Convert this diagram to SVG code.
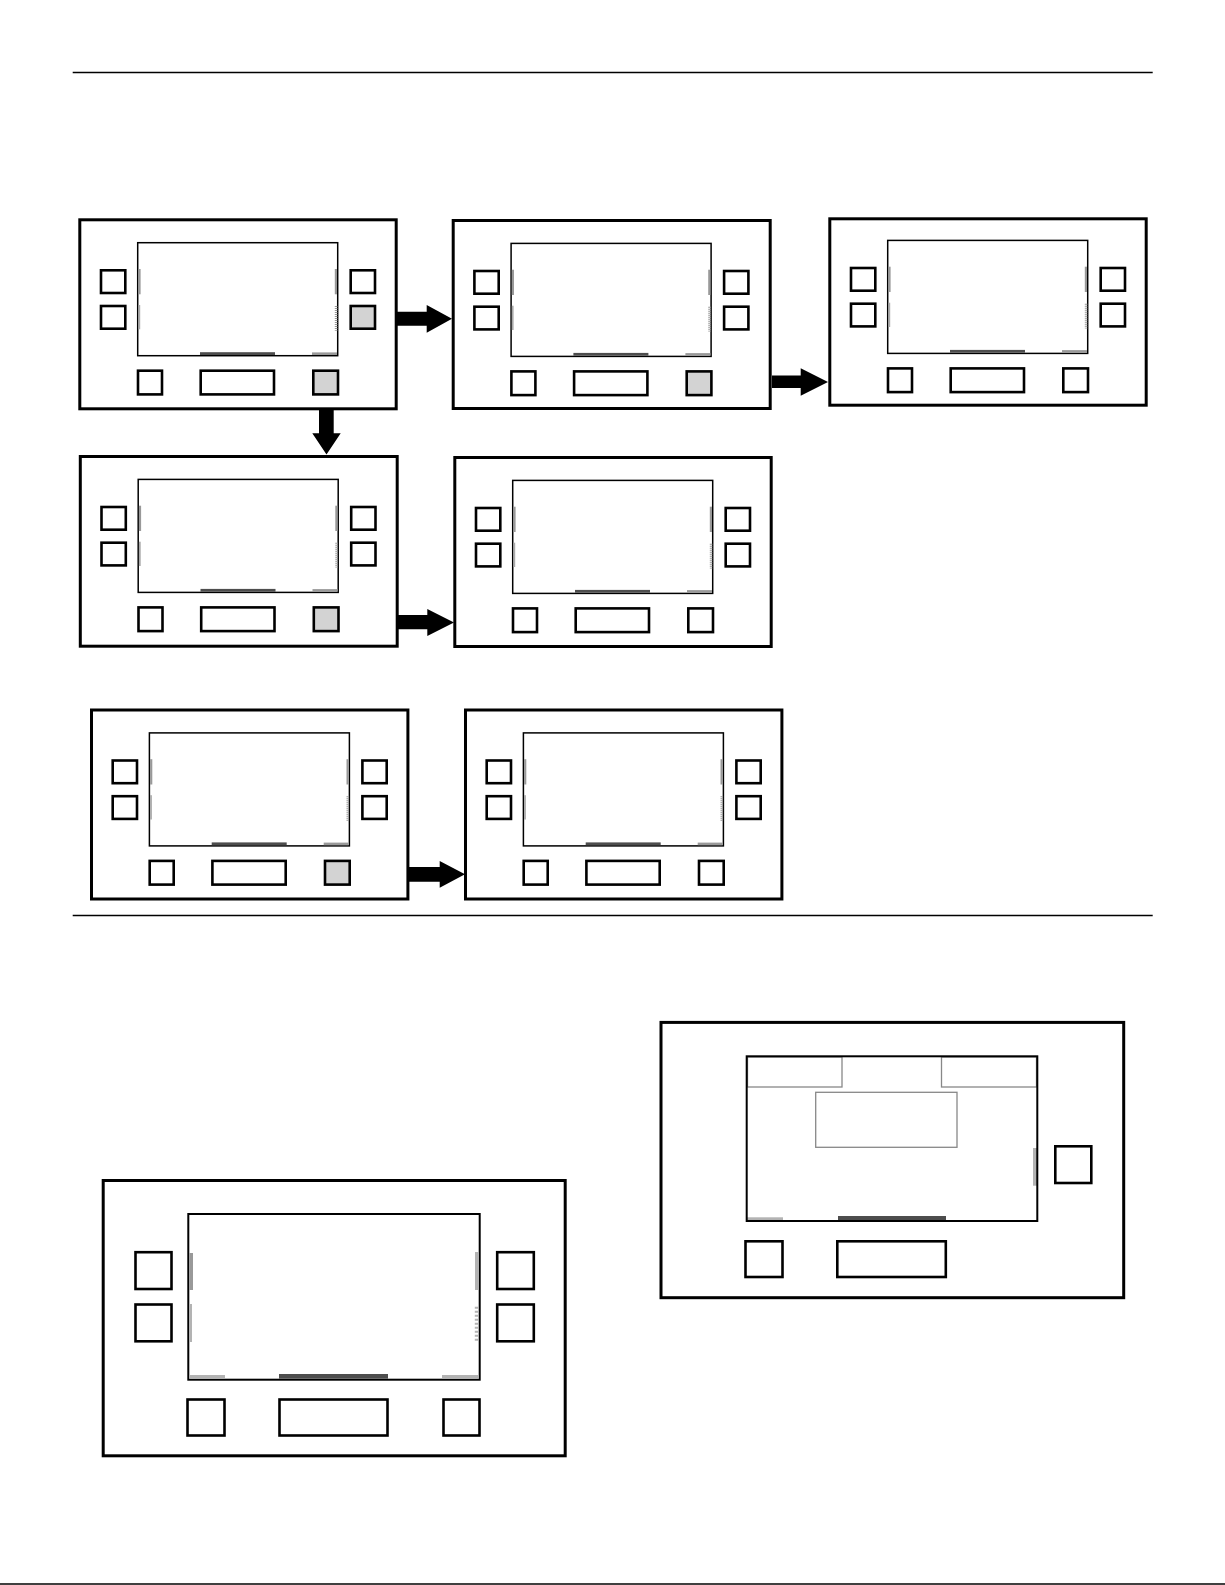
<svg xmlns="http://www.w3.org/2000/svg" width="1225" height="1585" viewBox="0 0 1225 1585">
<style>
.o{fill:none;stroke:#000;stroke-width:3}
.s{fill:none;stroke:#000;stroke-width:1.5}
.b{fill:#fff;stroke:#000;stroke-width:2.6}
.bg{fill:#d3d3d3;stroke:#000;stroke-width:2.6}
.g1{fill:#999}
.g2{fill:#aaa}
.gl{fill:#b3b3b3}
.d{fill:#4d4d4d}
.h{stroke:#999;stroke-width:2.6;stroke-dasharray:1 1;fill:none}
.hb{stroke:#b3b3b3;stroke-width:4;stroke-dasharray:2 2;fill:none}
.sub{fill:none;stroke:#888;stroke-width:1.3}
.sep{stroke:#000;stroke-width:1.3}
.arr{fill:#000}
</style>
<rect width="1225" height="1585" fill="#fff"/>
<line class="sep" x1="72.7" y1="72.5" x2="1152.7" y2="72.5"/>
<line class="sep" x1="72.7" y1="915.5" x2="1152.7" y2="915.5"/>
<line class="sep" x1="0" y1="1584" x2="1225" y2="1584"/>

<g id="panel1" transform="translate(79.8,219.8)">
<rect class="o" x="0" y="0" width="316.4" height="189"/>
<rect class="s" x="57.9" y="22.9" width="200" height="113"/>
<rect class="g1" x="58.6" y="49.2" width="2.2" height="25.3"/>
<rect class="g2" x="58.6" y="85.2" width="1.8" height="24.3"/>
<rect class="g1" x="255" y="49.2" width="2.2" height="25.3"/>
<line class="h" x1="256.3" y1="86.2" x2="256.3" y2="110.9"/>
<rect class="d" x="120.2" y="132.4" width="75" height="2.8"/>
<rect class="g1" x="232.2" y="132.6" width="25" height="2.6"/>
<rect class="b" x="21.2" y="50.5" width="24.3" height="22.7"/>
<rect class="b" x="21.2" y="86.2" width="24.3" height="22.7"/>
<rect class="b" x="270.9" y="50.5" width="24.3" height="22.7"/>
<rect class="bg" x="270.9" y="86.2" width="24.3" height="22.7"/>
<rect class="b" x="58.2" y="150.9" width="24" height="23.7"/>
<rect class="b" x="120.9" y="150.9" width="73.3" height="23.7"/>
<rect class="bg" x="233.5" y="150.9" width="24.7" height="23.7"/>
</g>

<g id="panel2" transform="translate(453.2,220.5)">
<rect class="o" x="0" y="0" width="317" height="188"/>
<rect class="s" x="57.9" y="22.9" width="200" height="113"/>
<rect class="g1" x="58.6" y="49.2" width="2.2" height="25.3"/>
<rect class="g2" x="58.6" y="85.2" width="1.8" height="24.3"/>
<rect class="g1" x="255" y="49.2" width="2.2" height="25.3"/>
<line class="h" x1="256.3" y1="86.2" x2="256.3" y2="110.9"/>
<rect class="d" x="120.2" y="132.4" width="75" height="2.8"/>
<rect class="g1" x="232.2" y="132.6" width="25" height="2.6"/>
<rect class="b" x="21.2" y="50.5" width="24.3" height="22.7"/>
<rect class="b" x="21.2" y="86.2" width="24.3" height="22.7"/>
<rect class="b" x="270.9" y="50.5" width="24.3" height="22.7"/>
<rect class="b" x="270.9" y="86.2" width="24.3" height="22.7"/>
<rect class="b" x="58.2" y="150.9" width="24" height="23.7"/>
<rect class="b" x="120.9" y="150.9" width="73.3" height="23.7"/>
<rect class="bg" x="233.5" y="150.9" width="24.7" height="23.7"/>
</g>

<g id="panel3" transform="translate(829.8,217.5)">
<rect class="o" x="0" y="1.3" width="316.4" height="186.4"/>
<rect class="s" x="57.9" y="22.9" width="200" height="113"/>
<rect class="g1" x="58.6" y="49.2" width="2.2" height="25.3"/>
<rect class="g2" x="58.6" y="85.2" width="1.8" height="24.3"/>
<rect class="g1" x="255" y="49.2" width="2.2" height="25.3"/>
<line class="h" x1="256.3" y1="86.2" x2="256.3" y2="110.9"/>
<rect class="d" x="120.2" y="132.4" width="75" height="2.8"/>
<rect class="g1" x="232.2" y="132.6" width="25" height="2.6"/>
<rect class="b" x="21.2" y="50.5" width="24.3" height="22.7"/>
<rect class="b" x="21.2" y="86.2" width="24.3" height="22.7"/>
<rect class="b" x="270.9" y="50.5" width="24.3" height="22.7"/>
<rect class="b" x="270.9" y="86.2" width="24.3" height="22.7"/>
<rect class="b" x="58.2" y="150.9" width="24" height="23.7"/>
<rect class="b" x="120.9" y="150.9" width="73.3" height="23.7"/>
<rect class="b" x="233.5" y="150.9" width="24.7" height="23.7"/>
</g>

<g id="panel4" transform="translate(80.3,456.5)">
<rect class="o" x="0" y="0" width="316.9" height="189.7"/>
<rect class="s" x="57.9" y="22.9" width="200" height="113"/>
<rect class="g1" x="58.6" y="49.2" width="2.2" height="25.3"/>
<rect class="g2" x="58.6" y="85.2" width="1.8" height="24.3"/>
<rect class="g1" x="255" y="49.2" width="2.2" height="25.3"/>
<line class="h" x1="256.3" y1="86.2" x2="256.3" y2="110.9"/>
<rect class="d" x="120.2" y="132.4" width="75" height="2.8"/>
<rect class="g1" x="232.2" y="132.6" width="25" height="2.6"/>
<rect class="b" x="21.2" y="50.5" width="24.3" height="22.7"/>
<rect class="b" x="21.2" y="86.2" width="24.3" height="22.7"/>
<rect class="b" x="270.9" y="50.5" width="24.3" height="22.7"/>
<rect class="b" x="270.9" y="86.2" width="24.3" height="22.7"/>
<rect class="b" x="58.2" y="150.9" width="24" height="23.7"/>
<rect class="b" x="120.9" y="150.9" width="73.3" height="23.7"/>
<rect class="bg" x="233.5" y="150.9" width="24.7" height="23.7"/>
</g>

<g id="panel5" transform="translate(454.8,457.5)">
<rect class="o" x="0" y="0" width="316.4" height="189"/>
<rect class="s" x="57.9" y="22.9" width="200" height="113"/>
<rect class="g1" x="58.6" y="49.2" width="2.2" height="25.3"/>
<rect class="g2" x="58.6" y="85.2" width="1.8" height="24.3"/>
<rect class="g1" x="255" y="49.2" width="2.2" height="25.3"/>
<line class="h" x1="256.3" y1="86.2" x2="256.3" y2="110.9"/>
<rect class="d" x="120.2" y="132.4" width="75" height="2.8"/>
<rect class="g1" x="232.2" y="132.6" width="25" height="2.6"/>
<rect class="b" x="21.2" y="50.5" width="24.3" height="22.7"/>
<rect class="b" x="21.2" y="86.2" width="24.3" height="22.7"/>
<rect class="b" x="270.9" y="50.5" width="24.3" height="22.7"/>
<rect class="b" x="270.9" y="86.2" width="24.3" height="22.7"/>
<rect class="b" x="58.2" y="150.9" width="24" height="23.7"/>
<rect class="b" x="120.9" y="150.9" width="73.3" height="23.7"/>
<rect class="b" x="233.5" y="150.9" width="24.7" height="23.7"/>
</g>

<g id="panel6" transform="translate(91.5,710)">
<rect class="o" x="0" y="0" width="316.4" height="189"/>
<rect class="s" x="57.9" y="22.9" width="200" height="113"/>
<rect class="g1" x="58.6" y="49.2" width="2.2" height="25.3"/>
<rect class="g2" x="58.6" y="85.2" width="1.8" height="24.3"/>
<rect class="g1" x="255" y="49.2" width="2.2" height="25.3"/>
<line class="h" x1="256.3" y1="86.2" x2="256.3" y2="110.9"/>
<rect class="d" x="120.2" y="132.4" width="75" height="2.8"/>
<rect class="g1" x="232.2" y="132.6" width="25" height="2.6"/>
<rect class="b" x="21.2" y="50.5" width="24.3" height="22.7"/>
<rect class="b" x="21.2" y="86.2" width="24.3" height="22.7"/>
<rect class="b" x="270.9" y="50.5" width="24.3" height="22.7"/>
<rect class="b" x="270.9" y="86.2" width="24.3" height="22.7"/>
<rect class="b" x="58.2" y="150.9" width="24" height="23.7"/>
<rect class="b" x="120.9" y="150.9" width="73.3" height="23.7"/>
<rect class="bg" x="233.5" y="150.9" width="24.7" height="23.7"/>
</g>

<g id="panel7" transform="translate(465.5,710)">
<rect class="o" x="0" y="0" width="316.4" height="189"/>
<rect class="s" x="57.9" y="22.9" width="200" height="113"/>
<rect class="g1" x="58.6" y="49.2" width="2.2" height="25.3"/>
<rect class="g2" x="58.6" y="85.2" width="1.8" height="24.3"/>
<rect class="g1" x="255" y="49.2" width="2.2" height="25.3"/>
<line class="h" x1="256.3" y1="86.2" x2="256.3" y2="110.9"/>
<rect class="d" x="120.2" y="132.4" width="75" height="2.8"/>
<rect class="g1" x="232.2" y="132.6" width="25" height="2.6"/>
<rect class="b" x="21.2" y="50.5" width="24.3" height="22.7"/>
<rect class="b" x="21.2" y="86.2" width="24.3" height="22.7"/>
<rect class="b" x="270.9" y="50.5" width="24.3" height="22.7"/>
<rect class="b" x="270.9" y="86.2" width="24.3" height="22.7"/>
<rect class="b" x="58.2" y="150.9" width="24" height="23.7"/>
<rect class="b" x="120.9" y="150.9" width="73.3" height="23.7"/>
<rect class="b" x="233.5" y="150.9" width="24.7" height="23.7"/>
</g>

<g id="panel8">
<rect class="o" x="103.2" y="1180.5" width="462" height="275.3"/>
<rect class="s" x="188.3" y="1214" width="291.4" height="165.7" style="stroke-width:2"/>
<rect class="g1" x="189.3" y="1253" width="3.7" height="37"/>
<rect class="gl" x="189.3" y="1304" width="2.7" height="38"/>
<rect class="gl" x="475" y="1252" width="3.7" height="38"/>
<line class="hb" x1="476.8" y1="1306.7" x2="476.8" y2="1342.7"/>
<rect class="gl" x="189.3" y="1375" width="35.7" height="3.7"/>
<rect class="d" x="279" y="1374" width="109" height="4.7"/>
<rect class="gl" x="442" y="1375" width="36.7" height="3.7"/>
<rect class="b" x="135.5" y="1252.2" width="36" height="36.8"/>
<rect class="b" x="135.5" y="1304.5" width="36" height="36.8"/>
<rect class="b" x="497.2" y="1252.2" width="36.6" height="36.8"/>
<rect class="b" x="497.2" y="1304.5" width="36.6" height="36.8"/>
<rect class="b" x="187.5" y="1399.5" width="37" height="36"/>
<rect class="b" x="279.5" y="1399.5" width="108" height="36"/>
<rect class="b" x="443.5" y="1399.5" width="36" height="36"/>
</g>

<g id="panel9">
<rect class="o" x="661" y="1022.4" width="462.7" height="275.3"/>
<rect class="sub" x="747.5" y="1057" width="94.5" height="30"/>
<rect class="sub" x="941.5" y="1057" width="95" height="30"/>
<rect class="sub" x="815.7" y="1092.3" width="141.3" height="55"/>
<rect class="gl" x="1033" y="1148" width="4" height="37.7"/>
<rect class="gl" x="747" y="1217.3" width="36" height="3.7"/>
<rect class="d" x="838" y="1216" width="108" height="5"/>
<rect class="s" x="746.7" y="1056.3" width="290.6" height="164.7" style="stroke-width:2"/>
<rect class="b" x="1055.3" y="1146.3" width="36" height="36.7"/>
<rect class="b" x="745.5" y="1241.3" width="37" height="35.7"/>
<rect class="b" x="837.3" y="1241.3" width="108.5" height="35.7"/>
</g>

<g id="connectors">
<polygon class="arr" points="397,311.7 426.7,311.7 426.7,305 452,318.8 426.7,332.7 426.7,325.7 397,325.7"/>
<polygon class="arr" points="772,375.5 800.7,375.5 800.7,368.3 828,382 800.7,395.7 800.7,388 772,388"/>
<polygon class="arr" points="319,409 333.7,409 333.7,433.3 340.7,433.3 326.5,454.5 312.3,433.3 319,433.3"/>
<polygon class="arr" points="398,615 427.3,615 427.3,609 454,622.5 427.3,636 427.3,629.3 398,629.3"/>
<polygon class="arr" points="408,867 439.7,867 439.7,861 465,874.3 439.7,887.7 439.7,881.7 408,881.7"/>
</g>
</svg>
